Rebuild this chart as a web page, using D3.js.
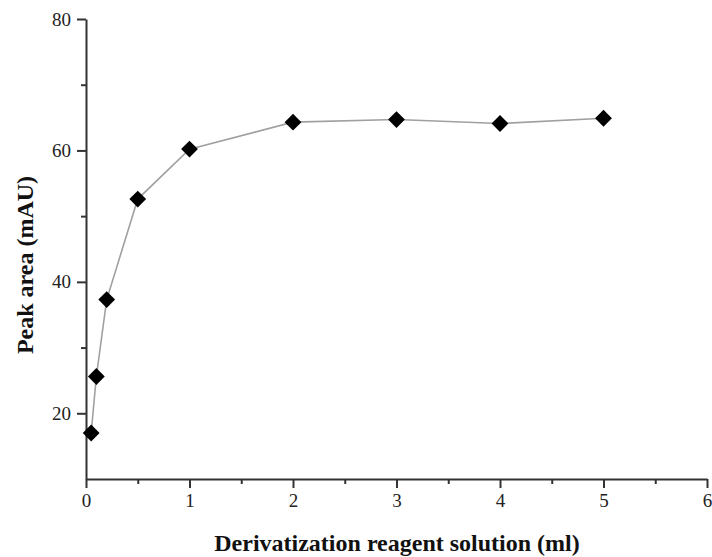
<!DOCTYPE html>
<html>
<head>
<meta charset="utf-8">
<script src="https://cdn.jsdelivr.net/npm/d3@7"></script>
<style>
  body { margin: 0; background: #fff; }
  svg { font-family: "Liberation Serif", "Times New Roman", serif; }
</style>
</head>
<body>
<div id="chart"></div>
<script>
// values
const volumes = [0.05, 0.1, 0.2, 0.5, 1, 2, 3, 4, 5];
const peakAreas = [17.0, 25.6, 37.3, 52.6, 60.2, 64.3, 64.7, 64.1, 64.9];
const xTicks = [0, 1, 2, 3, 4, 5, 6];
const xMinorTicks = [0.5, 1.5, 2.5, 3.5, 4.5, 5.5];
const yTicks = [20, 40, 60, 80];
const yMinorTicks = [30, 50, 70];

const width = 712, height = 557;
const margin = { top: 19, right: 5, bottom: 78, left: 86 };
const innerW = width - margin.left - margin.right;
const innerH = height - margin.top - margin.bottom;

const svg = d3.select("#chart").append("svg")
  .attr("width", width)
  .attr("height", height);

const g = svg.append("g")
  .attr("transform", `translate(${margin.left},${margin.top})`);

const x = d3.scaleLinear().domain([0, 6]).range([0, innerW]);
const y = d3.scaleLinear().domain([10, 80]).range([innerH, 0]);

const axisColor = "#333";
const fmt = d3.format("d");

// x axis
g.append("g")
  .attr("transform", `translate(0,${innerH})`)
  .call(d3.axisBottom(x).tickValues(xTicks).tickFormat(fmt).tickSize(9).tickPadding(6).tickSizeOuter(0));
g.append("g")
  .attr("transform", `translate(0,${innerH})`)
  .call(d3.axisBottom(x).tickValues(xMinorTicks).tickSize(5).tickFormat("").tickSizeOuter(0))
  .select(".domain").remove();

// y axis
g.append("g")
  .call(d3.axisLeft(y).tickValues(yTicks).tickFormat(fmt).tickSize(9).tickPadding(6).tickSizeOuter(0));
g.append("g")
  .call(d3.axisLeft(y).tickValues(yMinorTicks).tickSize(5).tickFormat("").tickSizeOuter(0))
  .select(".domain").remove();

g.selectAll(".domain").attr("stroke", axisColor).attr("stroke-width", 2);
g.selectAll(".tick line").attr("stroke", axisColor).attr("stroke-width", 2);
g.selectAll(".tick text")
  .style("font-size", "19px")
  .style("font-family", "Liberation Serif, serif")
  .attr("fill", "#222");

// axis titles
svg.append("text")
  .attr("x", 397)
  .attr("y", 551)
  .attr("text-anchor", "middle")
  .style("font-size", "24px")
  .style("font-weight", "bold")
  .attr("fill", "#111")
  .text("Derivatization reagent solution (ml)");

svg.append("text")
  .attr("transform", `translate(33,265) rotate(-90)`)
  .attr("text-anchor", "middle")
  .style("font-size", "24px")
  .style("font-weight", "bold")
  .attr("fill", "#111")
  .text("Peak area (mAU)");

// data line
const points = volumes.map((v, i) => ({ v, a: peakAreas[i] }));

g.append("path")
  .datum(points)
  .attr("fill", "none")
  .attr("stroke", "#a0a0a0")
  .attr("stroke-width", 1.6)
  .attr("d", d3.line().x(d => x(d.v)).y(d => y(d.a)));

// diamond markers
g.selectAll(".pt")
  .data(points)
  .enter()
  .append("path")
  .attr("class", "pt")
  .attr("transform", d => `translate(${x(d.v)},${y(d.a)})`)
  .attr("d", d3.symbol().type(d3.symbolDiamond2).size(180))
  .attr("fill", "#000");
</script>
</body>
</html>
